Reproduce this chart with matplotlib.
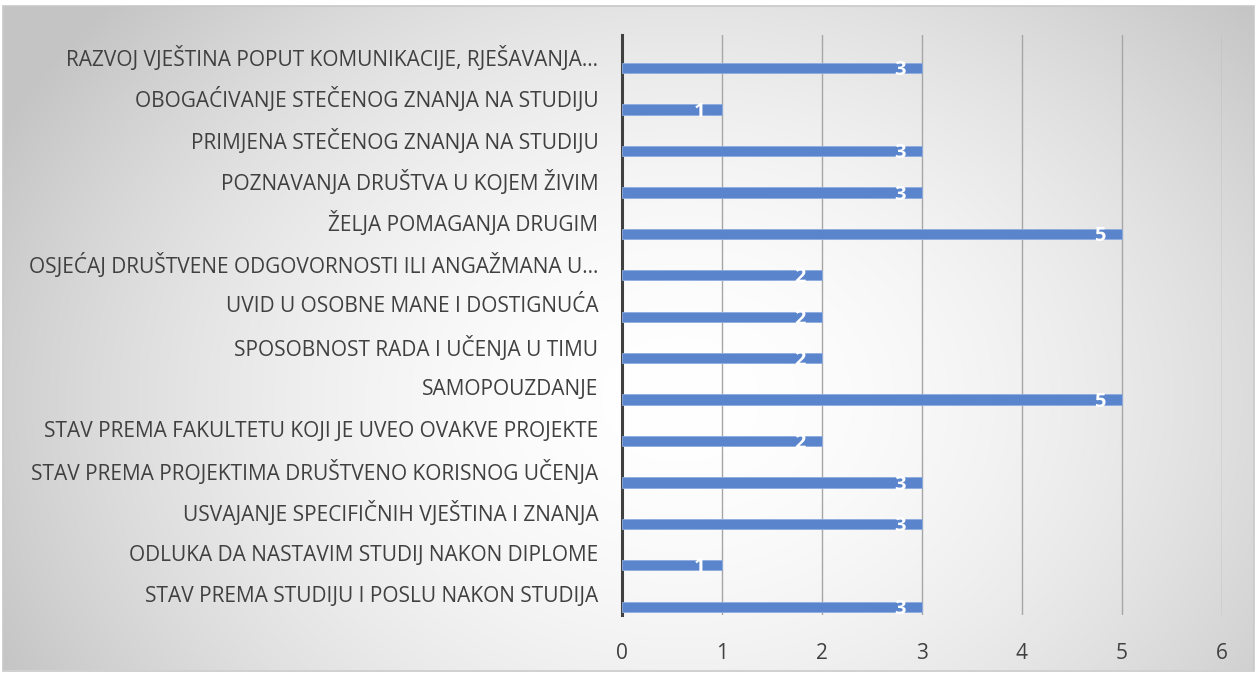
import numpy as np
import matplotlib.pyplot as plt
from matplotlib.patches import Rectangle

# Podaci (odozgo prema dolje)
kategorije = [
    "RAZVOJ VJEŠTINA POPUT KOMUNIKACIJE, RJEŠAVANJA…",
    "OBOGAĆIVANJE STEČENOG ZNANJA NA STUDIJU",
    "PRIMJENA STEČENOG ZNANJA NA STUDIJU",
    "POZNAVANJA DRUŠTVA U KOJEM ŽIVIM",
    "ŽELJA POMAGANJA DRUGIM",
    "OSJEĆAJ DRUŠTVENE ODGOVORNOSTI ILI ANGAŽMANA U…",
    "UVID U OSOBNE MANE I DOSTIGNUĆA",
    "SPOSOBNOST RADA I UČENJA U TIMU",
    "SAMOPOUZDANJE",
    "STAV PREMA FAKULTETU KOJI JE UVEO OVAKVE PROJEKTE",
    "STAV PREMA PROJEKTIMA DRUŠTVENO KORISNOG UČENJA",
    "USVAJANJE SPECIFIČNIH VJEŠTINA I ZNANJA",
    "ODLUKA DA NASTAVIM STUDIJ NAKON DIPLOME",
    "STAV PREMA STUDIJU I POSLU NAKON STUDIJA",
]
vrijednosti = [3, 1, 3, 3, 5, 2, 2, 2, 5, 2, 3, 3, 1, 3]
x_ticks = [0, 1, 2, 3, 4, 5, 6]

plt.rcParams['font.family'] = ['Open Sans', 'DejaVu Sans']

fig = plt.figure(figsize=(12.57, 6.74), dpi=100)

# Radijalna pozadina (bijelo u sredini, sivo prema rubovima)
bg = fig.add_axes([0, 0, 1, 1], zorder=-10)
W, H = 1257, 674
yy, xx = np.mgrid[0:H, 0:W]
r = np.sqrt(((xx - 680) / 760.0) ** 2 + ((yy - 400) / 600.0) ** 2)
r = np.clip(r, 0, 1)
shade = 1.0 - 0.23 * r ** 1.8
img = bg.imshow(np.dstack([shade] * 3), extent=[0, W, H, 0], aspect='auto')
okvir = Rectangle((2.5, 5.5), W - 6, H - 9, fill=False, ec='#c8c8c8', lw=1.2)
bg.add_patch(okvir)
img.set_clip_path(okvir)
bg.set_xlim(0, W)
bg.set_ylim(H, 0)
bg.axis('off')

ax = fig.add_axes([622 / W, 1 - 615 / H, 600 / W, 580 / H])
ax.patch.set_alpha(0)

n = len(kategorije)
pos = np.arange(n)[::-1]
bar_y = pos - 0.30
bars = ax.barh(bar_y, vrijednosti, height=0.25, color='#5a85cd',
               edgecolor='#8eacdf', linewidth=0.6, zorder=3)

for b, v in zip(bars, vrijednosti):
    ax.text(b.get_width() - 0.22, b.get_y() + b.get_height() / 2 - 0.05, str(v),
            ha='center', va='center', color='white', fontsize=14.5,
            fontweight='bold', zorder=4)

ax.set_xlim(0, 6)
ax.set_ylim(-0.5, n - 0.5)
ax.set_xticks(x_ticks)
ax.set_xticklabels([str(t) for t in x_ticks])
ax.set_yticks(pos)
ax.set_yticklabels(kategorije)

ax.xaxis.grid(True, color='#a6a6a6', linewidth=1.0, zorder=0)
ax.set_axisbelow(True)

for s in ['top', 'right', 'bottom']:
    ax.spines[s].set_visible(False)
ax.spines['left'].set_color('#404040')
ax.spines['left'].set_linewidth(2.2)

ax.tick_params(axis='y', length=0, pad=17, labelsize=15, labelcolor='#404040')
ax.tick_params(axis='x', length=0, pad=20, labelsize=15, labelcolor='#404040')

fig.savefig('out.png', dpi=100)
